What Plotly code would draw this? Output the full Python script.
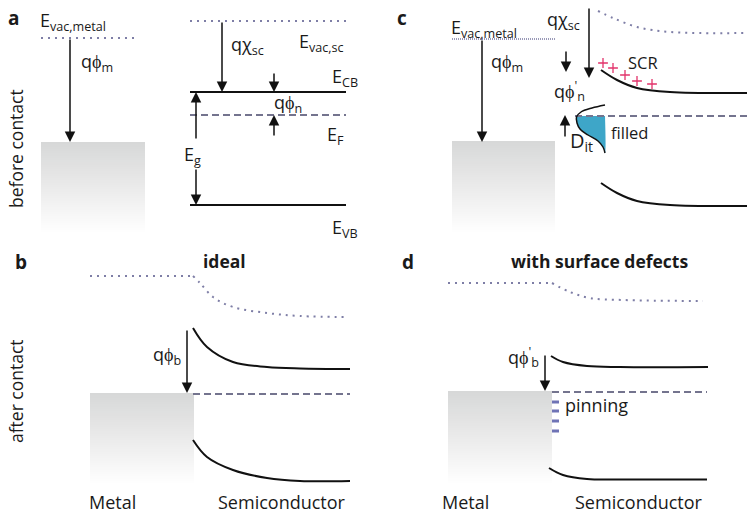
import plotly.graph_objects as go
import numpy as np

W, H = 747, 515
FONT = "Open Sans"
BLACK = "#111111"
DOT = "#7e7ea6"
DASH = "#74748e"
PIN = "#6f73b5"
RED = "#e2336b"
BLUE = "#3ea6c8"

# ---------------- panel a (before contact, ideal) ----------------
a_vac_metal_x = [41, 138]; a_vac_metal_y = [38, 38]
a_vac_sc_x = [190, 346]; a_vac_sc_y = [21, 21]
a_cb_x = [190, 346]; a_cb_y = [92, 92]
a_ef_x = [190, 346]; a_ef_y = [115, 115]
a_vb_x = [190, 346]; a_vb_y = [205, 205]

# ---------------- panel b (after contact, ideal) ----------------
b_vac_flat_x = [90, 193]; b_vac_flat_y = [276, 276]
b_vac_x = [193, 200, 213, 233, 267, 300, 348]
b_vac_y = [276, 283, 297, 307, 313, 316, 317]
b_cb_x = [193, 207, 233, 267, 300, 350]
b_cb_y = [328, 347, 362, 367, 368.5, 369]
b_ef_x = [193, 350]; b_ef_y = [394, 394]
b_vb_x = [193, 207, 233, 267, 300, 350]
b_vb_y = [440, 457, 470, 478, 481, 481]

# ---------------- panel c (before contact, surface defects) ----------------
c_vac_metal_x = [452, 555]; c_vac_metal_y = [39, 39]
c_vac_x = [598, 613, 637, 670, 747]
c_vac_y = [11, 18, 27, 32, 33]
c_cb_x = [601, 617, 637, 670, 747]
c_cb_y = [70, 80, 88, 92, 93]
c_ef_x = [575, 747]; c_ef_y = [116, 116]
c_vb_x = [601, 617, 637, 670, 747]
c_vb_y = [183, 193, 201, 205, 206]
c_dit_x = [605, 592, 581, 576.5, 577, 580, 588, 598, 603, 605]
c_dit_y = [105, 108, 112, 117, 123, 129, 135, 141, 147, 153]
c_fill_x = [577, 577, 580, 588, 598, 603, 605, 605]
c_fill_y = [116, 123, 129, 135, 141, 147, 153, 116]
c_plus_x = [603, 613, 625, 637, 652]
c_plus_y = [63, 68, 75, 81, 84]

# ---------------- panel d (after contact, surface defects) ----------------
d_vac_flat_x = [448, 552]; d_vac_flat_y = [283, 283]
d_vac_x = [552, 570, 590, 623, 703]
d_vac_y = [283, 292, 298, 300, 301]
d_cb_x = [551, 563, 587, 620, 708]
d_cb_y = [356, 362, 366, 367, 367]
d_ef_x = [552, 707]; d_ef_y = [392, 392]
d_vb_x = [549, 563, 587, 620, 707]
d_vb_y = [468, 475, 479, 479.5, 479.5]
d_pin_y = [402, 411, 421, 431]

# metal blocks (x0, x1, y0, y1)
metal_blocks = [(41, 145, 142, 232), (452, 555, 141, 232), (90, 194, 393, 483), (448, 552, 391, 483)]

fig = go.Figure()

# gradient metal blocks
for (x0, x1, y0, y1) in metal_blocks:
    n = 40
    ye = np.linspace(y0, y1, n + 1)
    z = [[i / (n - 1)] for i in range(n)]
    fig.add_trace(go.Heatmap(x=[x0, x1], y=ye, z=z, showscale=False, hoverinfo="skip",
                             colorscale=[[0, "#d7d8d8"], [0.6, "#eeeeee"], [1, "#fefefe"]],
                             zmin=0, zmax=1))

def line(x, y, color=BLACK, width=2, dash=None, shape="linear"):
    fig.add_trace(go.Scatter(x=x, y=y, mode="lines", hoverinfo="skip",
                             line=dict(color=color, width=width, dash=dash, shape=shape, smoothing=1.0)))

DOTS = "2px,5px"
EFD = "7px,4px"

# panel a
line(a_vac_metal_x, a_vac_metal_y, DOT, 2, DOTS)
line(a_vac_sc_x, a_vac_sc_y, DOT, 2, DOTS)
line(a_cb_x, a_cb_y)
line(a_ef_x, a_ef_y, DASH, 2, EFD)
line(a_vb_x, a_vb_y)

# panel b
line(b_vac_flat_x, b_vac_flat_y, DOT, 2, DOTS)
line(b_vac_x, b_vac_y, DOT, 2, DOTS, "spline")
line(b_cb_x, b_cb_y, shape="spline")
line(b_ef_x, b_ef_y, DASH, 2, EFD)
line(b_vb_x, b_vb_y, shape="spline")

# panel c
fig.add_trace(go.Scatter(x=c_fill_x, y=c_fill_y, mode="lines", fill="toself", fillcolor=BLUE,
                         line=dict(width=0, color=BLUE, shape="spline"), hoverinfo="skip"))
line(c_vac_metal_x, c_vac_metal_y, "#9a9ab8", 2, "1px,1px")
line(c_vac_x, c_vac_y, DOT, 2, DOTS, "spline")
line(c_cb_x, c_cb_y, shape="spline")
line(c_ef_x, c_ef_y, DASH, 2, EFD)
line(c_vb_x, c_vb_y, shape="spline")
line(c_dit_x, c_dit_y, width=1.5, shape="spline")
fig.add_trace(go.Scatter(x=c_plus_x, y=c_plus_y, mode="markers", hoverinfo="skip",
                         marker=dict(symbol="cross-thin", size=7, color=RED, line=dict(width=1.3, color=RED))))

# panel d
line(d_vac_flat_x, d_vac_flat_y, DOT, 2, DOTS)
line(d_vac_x, d_vac_y, DOT, 2, DOTS, "spline")
line(d_cb_x, d_cb_y, shape="spline")
line(d_ef_x, d_ef_y, DASH, 2, EFD)
line(d_vb_x, d_vb_y, shape="spline")
for py in d_pin_y:
    line([552, 559], [py, py], PIN, 3)

# arrows: (tip_x, tip_y, tail_x, tail_y)
arrows = [
    (70, 142, 70, 38), (222, 92, 222, 21), (274, 92, 274, 72), (274, 115, 274, 137),
    (196, 92, 196, 140), (196, 205, 196, 168),
    (482, 142, 482, 39), (589, 78, 589, 7), (566, 72, 566, 50), (565, 115, 565, 138),
    (187, 393, 187, 329), (545, 391, 545, 354),
]
ann = []
for (x, y, ax, ay) in arrows:
    ann.append(dict(x=x, y=y, ax=ax, ay=ay, xref="x", yref="y", axref="x", ayref="y",
                    text="", showarrow=True, arrowhead=2, arrowsize=1.4, arrowwidth=1.5,
                    arrowcolor=BLACK, standoff=0, startstandoff=0))

def txt(x, y, s, size=18, xa="left", ya="middle", angle=0, color="#1a1a1a"):
    ann.append(dict(x=x, y=y, xref="x", yref="y", text=s, showarrow=False, xanchor=xa, yanchor=ya,
                    textangle=angle, font=dict(family=FONT, size=size, color=color)))

# panel labels
txt(6, 18, "<b>a</b>", 19)
txt(395, 18, "<b>c</b>", 19)
txt(13, 262, "<b>b</b>", 19)
txt(400, 262, "<b>d</b>", 19)
txt(224, 261, "<b>ideal</b>", 17.5, "center")
txt(599, 261, "<b>with surface defects</b>", 17.5, "center")
txt(16, 149, "before contact", 17.5, "center", "middle", -90)
txt(16, 391, "after contact", 17.5, "center", "middle", -90)

# panel a texts
txt(38, 21, "E<sub>vac,metal</sub>", 18)
txt(79, 62, "qϕ<sub>m</sub>", 18)
txt(229, 45, "qχ<sub>sc</sub>", 18)
txt(297, 42, "E<sub>vac,sc</sub>", 18)
txt(330, 77, "E<sub>CB</sub>", 18)
txt(272, 103, "qϕ<sub>n</sub>", 18)
txt(325, 135, "E<sub>F</sub>", 18)
txt(182, 155, "E<sub>g</sub>", 18)
txt(330, 228, "E<sub>VB</sub>", 18)

# panel c texts
txt(449, 28, "E<sub>vac,metal</sub>", 18)
txt(489, 62, "qϕ<sub>m</sub>", 18)
txt(545, 20, "qχ<sub>sc</sub>", 18)
txt(626, 62, "SCR", 16.5)
txt(552, 91, "qϕ<sup>'</sup><sub>n</sub>", 18)
txt(568, 141, "D<sub>it</sub>", 20)
txt(609, 132, "filled", 16.5)

# panel b/d texts
txt(183, 355, "qϕ<sub>b</sub>", 18, "right")
txt(506, 357, "qϕ<sup>'</sup><sub>b</sub>", 18)
txt(563, 405, "pinning", 18)
txt(112, 502, "Metal", 18, "center")
txt(282, 502, "Semiconductor", 18, "center")
txt(465, 502, "Metal", 18, "center")
txt(639, 502, "Semiconductor", 18, "center")

fig.update_layout(
    width=W, height=H, margin=dict(l=0, r=0, t=0, b=0),
    paper_bgcolor="white", plot_bgcolor="white", showlegend=False,
    xaxis=dict(range=[0, W], visible=False, fixedrange=True),
    yaxis=dict(range=[H, 0], visible=False, fixedrange=True),
    annotations=ann,
)
fig.write_html("out.html")
